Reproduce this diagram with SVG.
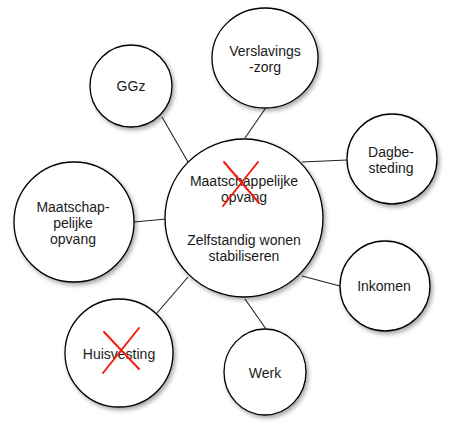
<svg xmlns="http://www.w3.org/2000/svg" width="450" height="433" viewBox="0 0 450 433">
<style>
.n{fill:#fff;stroke:#000;stroke-width:1.3;filter:url(#sh)}
.t{font-family:"Liberation Sans",Arial,sans-serif;font-size:14px;fill:#1a1a1a;text-anchor:middle}
.c line{stroke:#222;stroke-width:1.1}
.x{stroke:#f01e0e;stroke-width:2;stroke-linecap:round}
</style>
<defs>
<filter id="sh" x="-20%" y="-20%" width="150%" height="150%">
<feDropShadow dx="2" dy="2.5" stdDeviation="2" flood-color="#000" flood-opacity="0.35"/>
</filter>
</defs>
<g class="c" id="connectors">
<line x1="162" y1="117" x2="188" y2="162"/>
<line x1="265" y1="109" x2="245" y2="138"/>
<line x1="302" y1="162" x2="347" y2="160"/>
<line x1="134" y1="222" x2="166" y2="219"/>
<line x1="302" y1="276" x2="340" y2="286"/>
<line x1="245" y1="299" x2="266" y2="329"/>
<line x1="188" y1="277" x2="157" y2="313"/>
</g>
<g id="center">
<circle class="n" cx="244" cy="218" r="79"/>
<text class="t" x="244" y="186">Maatschappelijke</text>
<text class="t" x="244" y="202">opvang</text>
<text class="t" x="244" y="245">Zelfstandig wonen</text>
<text class="t" x="244" y="261">stabiliseren</text>
<line class="x" x1="224" y1="162" x2="259" y2="203"/>
<line class="x" x1="258" y1="162" x2="223" y2="206"/>
</g>
<g id="ggz">
<circle class="n" cx="131" cy="86" r="41"/>
<text class="t" x="131" y="91">GGz</text>
</g>
<g id="verslavingszorg">
<ellipse class="n" cx="265" cy="58" rx="53" ry="50"/>
<text class="t" x="265" y="56">Verslavings</text>
<text class="t" x="265" y="72">-zorg</text>
</g>
<g id="dagbesteding">
<circle class="n" cx="392" cy="159" r="45"/>
<text class="t" x="391" y="157">Dagbe-</text>
<text class="t" x="391" y="173">steding</text>
</g>
<g id="maatschappelijke-opvang">
<circle class="n" cx="74" cy="222" r="60"/>
<text class="t" x="73" y="212">Maatschap-</text>
<text class="t" x="73" y="228">pelijke</text>
<text class="t" x="73" y="244">opvang</text>
</g>
<g id="inkomen">
<circle class="n" cx="385" cy="286" r="45"/>
<text class="t" x="384" y="291">Inkomen</text>
</g>
<g id="werk">
<ellipse class="n" cx="265" cy="372" rx="41" ry="43"/>
<text class="t" x="265" y="378">Werk</text>
</g>
<g id="huisvesting">
<circle class="n" cx="119" cy="353" r="54"/>
<text class="t" x="119" y="359">Huisvesting</text>
<line class="x" x1="104" y1="332" x2="139" y2="369"/>
<line class="x" x1="139" y1="328" x2="103" y2="373"/>
</g>
</svg>
